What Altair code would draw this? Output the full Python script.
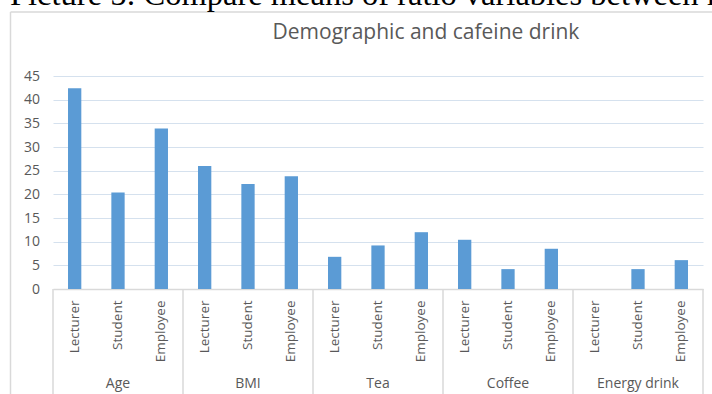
import altair as alt
import pandas as pd

# Grouped means by occupation
groups = ["Age", "BMI", "Tea", "Coffee", "Energy drink"]
roles = ["Lecturer", "Student", "Employee"]
age = [42.4, 20.4, 33.9]
bmi = [26.0, 22.2, 23.8]
tea = [6.8, 9.2, 12.0]
coffee = [10.4, 4.2, 8.5]
energy = [0.0, 4.2, 6.1]
y_ticks = [0, 5, 10, 15, 20, 25, 30, 35, 40, 45]

caption = "Picture 5: Compare means of ratio variables between k"
title = "Demographic and cafeine drink"

series = [age, bmi, tea, coffee, energy]
rows = []
for g, vals in zip(groups, series):
    for r, v in zip(roles, vals):
        rows.append({"key": f"{g}|{r}", "group": g, "role": r, "value": v})
df = pd.DataFrame(rows)
keys = list(df["key"])

W, H = 650, 213
GRAY = "#595959"
LINE = "#d9d9d9"
FONT = "Open Sans"

x_enc = alt.X(
    "key:N",
    sort=keys,
    scale=alt.Scale(paddingInner=0, paddingOuter=0),
    axis=alt.Axis(
        title=None,
        labelExpr="split(datum.value, '|')[1]",
        labelAngle=-90,
        labelFont=FONT,
        labelFontSize=13.5,
        labelColor=GRAY,
        labelPadding=11,
        ticks=False,
        tickSize=0,
        domainColor=LINE,
        domainWidth=1.5,
        grid=False,
    ),
)

base = alt.Chart(df)

bars = base.mark_bar(color="#5b9bd5", width=alt.RelativeBandSize(0.307)).encode(
    x=x_enc,
    y=alt.Y(
        "value:Q",
        scale=alt.Scale(domain=[0, 45], nice=False),
        axis=alt.Axis(
            title=None,
            values=y_ticks,
            labelFont=FONT,
            labelFontSize=14,
            labelColor=GRAY,
            labelPadding=13.5,
            ticks=False,
            tickSize=0,
            domain=False,
            gridColor="#d5e1ee",
            gridWidth=1.2,
        ),
    ),
)

# Vertical separators between category groups below the axis
sep_start = base.transform_filter(alt.datum.role == "Lecturer").mark_rule(
    color=LINE, strokeWidth=1.5
).encode(
    x=alt.X("key:N", sort=keys, bandPosition=0),
    y=alt.value(H),
    y2=alt.value(H + 120),
)
sep_end = base.transform_filter(alt.datum.key == keys[-1]).mark_rule(
    color=LINE, strokeWidth=1.5
).encode(
    x=alt.X("key:N", sort=keys, bandPosition=1),
    y=alt.value(H),
    y2=alt.value(H + 120),
)

group_labels = base.transform_filter(alt.datum.role == "Student").mark_text(
    font=FONT, fontSize=14, color=GRAY, baseline="alphabetic", align="center"
).encode(
    x=alt.X("key:N", sort=keys),
    y=alt.value(H + 99),
    text="group:N",
)

one = alt.Data(values=[{"t": 0}])

frame_left = alt.Chart(one).mark_rule(color=LINE, strokeWidth=1.5).encode(
    x=alt.value(-42.5), y=alt.value(-64), y2=alt.value(H + 120)
)
frame_top = alt.Chart(one).mark_rule(color=LINE, strokeWidth=1.5).encode(
    x=alt.value(-42.5), x2=alt.value(W + 20), y=alt.value(-64)
)

caption_text = alt.Chart(alt.Data(values=[{"t": caption}])).mark_text(
    font="Liberation Serif", fontSize=32.5, color="black", align="left", baseline="alphabetic"
).encode(x=alt.value(-43), y=alt.value(-71), text="t:N")

title_text = alt.Chart(alt.Data(values=[{"t": title}])).mark_text(
    font=FONT, fontSize=21, color=GRAY, align="center", baseline="alphabetic"
).encode(x=alt.value(373), y=alt.value(-37), text="t:N")

chart = alt.layer(
    frame_left, frame_top, bars, sep_start, sep_end, group_labels, caption_text, title_text
).properties(
    width=W,
    height=H,
    autosize=alt.AutoSizeParams(type="none"),
    padding={"left": 53, "top": 76, "right": 9, "bottom": 105},
    background="white",
).configure_view(stroke=None)

chart.save("out.html", embed_options={"renderer": "svg", "actions": False})
